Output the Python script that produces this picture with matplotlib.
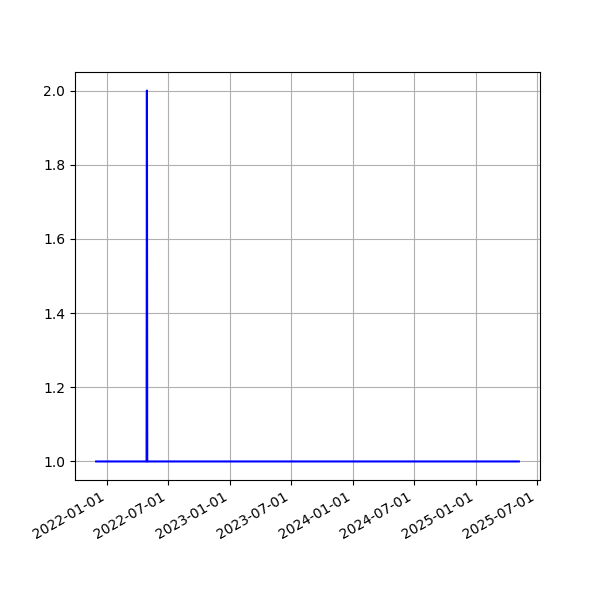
import pandas as pd
import matplotlib
matplotlib.use("Agg")
import matplotlib.pyplot as plt
import matplotlib.dates as mdates

# Data
dates = ["2021-11-29", "2022-04-28", "2022-04-29", "2022-04-30", "2025-05-09"]
values = [1, 1, 2, 1, 1]

dates = pd.to_datetime(dates)

fig, ax = plt.subplots(figsize=(6, 6), dpi=100)
ax.plot(dates, values, color="blue")

ax.xaxis.set_major_locator(mdates.MonthLocator(bymonth=[1, 7]))
ax.xaxis.set_major_formatter(mdates.DateFormatter("%Y-%m-%d"))
ax.grid(True)
fig.autofmt_xdate()

plt.savefig("out.png")
